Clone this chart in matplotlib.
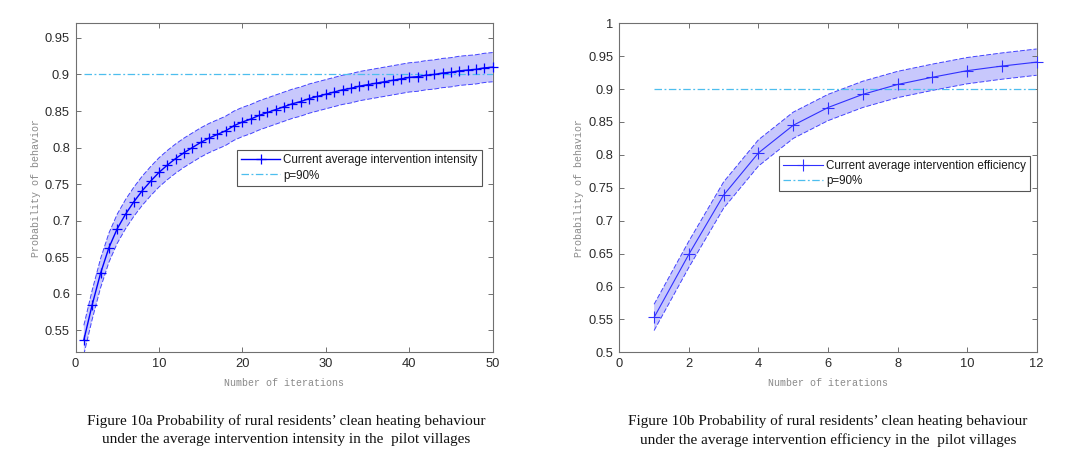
import matplotlib
matplotlib.use("Agg")
import matplotlib.pyplot as plt
import numpy as np
from matplotlib.ticker import FuncFormatter

# ---------------- data ----------------
iter_a = list(range(1, 51))
prob_a = [0.537, 0.585, 0.628, 0.663, 0.689, 0.709, 0.726, 0.741, 0.754, 0.766,
          0.776, 0.785, 0.793, 0.800, 0.807, 0.813, 0.818, 0.823, 0.830, 0.835,
          0.839, 0.844, 0.848, 0.852, 0.856, 0.860, 0.863, 0.867, 0.870, 0.873,
          0.876, 0.879, 0.881, 0.884, 0.886, 0.888, 0.890, 0.892, 0.894, 0.896,
          0.897, 0.899, 0.900, 0.902, 0.903, 0.905, 0.906, 0.907, 0.909, 0.910]
band_a = 0.02

iter_b = list(range(1, 13))
prob_b = [0.553, 0.649, 0.739, 0.803, 0.845, 0.872, 0.892, 0.907, 0.918, 0.928,
          0.935, 0.941]
band_b = 0.02

threshold = 0.90

legend_a = ["Current average intervention intensity", "p=90%"]
legend_b = ["Current average intervention efficiency", "p=90%"]

caption_a = ["Figure 10a Probability of rural residents\u2019 clean heating behaviour",
             "under the average intervention intensity in the  pilot villages"]
caption_b = ["Figure 10b Probability of rural residents\u2019 clean heating behaviour",
             "under the average intervention efficiency in the  pilot villages"]

xlabel = "Number of iterations"
ylabel = "Probability of behavior"

# ---------------- style ----------------
BLUE = "#0000ff"
FILL = "#c8c8fc"
THR = "#4dbeee"
AXC = "#707070"
TXT = "#2b2b2b"
LBL = "#8a8a8a"

fig = plt.figure(figsize=(10.8, 4.74), dpi=100)
fig.patch.set_facecolor("white")

ax_a = fig.add_axes([75.5 / 1080, 1 - 352.3 / 474, 417.2 / 1080, 329 / 474])
ax_b = fig.add_axes([619.3 / 1080, 1 - 352.3 / 474, 417.4 / 1080, 329 / 474])


def g_fmt(v, pos):
    return "%g" % round(v, 4)


def draw(ax, xs, ys, band, lw, ms, mew, lcolor, xlim, ylim, xticks, yticks,
         labels, leg_anchor):
    xs = np.asarray(xs, dtype=float)
    ys = np.asarray(ys, dtype=float)
    lo = ys - band
    hi = ys + band
    ax.fill_between(xs, lo, hi, facecolor=FILL, edgecolor="none", zorder=1)
    ax.plot(xs, lo, color=BLUE, lw=0.7, ls=(0, (5, 2)), alpha=0.7, zorder=2)
    ax.plot(xs, hi, color=BLUE, lw=0.7, ls=(0, (5, 2)), alpha=0.7, zorder=2)
    l1, = ax.plot(xs, ys, color=lcolor, lw=lw, marker="+", ms=ms, mew=mew,
                  zorder=4, clip_on=False)
    l2, = ax.plot([xs[0], xs[-1]], [threshold, threshold], color=THR, lw=0.9,
                  ls=(0, (6, 2, 1.5, 2)), zorder=3)
    ax.set_xlim(*xlim)
    ax.set_ylim(*ylim)
    ax.set_xticks(xticks)
    ax.set_yticks(yticks)
    ax.xaxis.set_major_formatter(FuncFormatter(g_fmt))
    ax.yaxis.set_major_formatter(FuncFormatter(g_fmt))
    ax.tick_params(direction="in", length=3.5, width=0.7, color=AXC,
                   top=True, right=True, labelsize=9.3, labelcolor=TXT, pad=4)
    for lab in ax.get_xticklabels() + ax.get_yticklabels():
        lab.set_family("Liberation Sans")
    for s in ax.spines.values():
        s.set_color(AXC)
        s.set_linewidth(0.8)
    ax.set_xlabel(xlabel, family="Liberation Mono", fontsize=7.2, color=LBL, labelpad=6)
    ax.set_ylabel(ylabel, family="Liberation Mono", fontsize=7.2, color=LBL, labelpad=3)
    leg = ax.legend([l1, l2], labels, loc="upper right", bbox_to_anchor=leg_anchor,
                    fancybox=False, framealpha=1, edgecolor="#555555",
                    prop={"family": "Liberation Sans", "size": 8.4},
                    handlelength=3.4, borderpad=0.35, labelspacing=0.3,
                    handletextpad=0.25, borderaxespad=0)
    leg.get_frame().set_linewidth(0.8)
    for t in leg.get_texts():
        t.set_color("#1a1a1a")


draw(ax_a, iter_a, prob_a, band_a, 1.0, 6.5, 0.9, BLUE, (0, 50), (0.52, 0.97),
     np.arange(0, 51, 10), np.arange(0.55, 0.951, 0.05), legend_a, (0.974, 0.615))
draw(ax_b, iter_b, prob_b, band_b, 0.8, 8, 0.8, "#3030ff", (0, 12), (0.5, 1.0),
     np.arange(0, 13, 2), np.arange(0.5, 1.001, 0.05), legend_b, (0.984, 0.598))

for cap, cx in ((caption_a, 286 / 1080), (caption_b, 828 / 1080)):
    fig.text(cx, 1 - 421 / 474, cap[0], ha="center", va="center",
             family="Liberation Serif", fontsize=11, color="#111111")
    fig.text(cx, 1 - 440 / 474, cap[1], ha="center", va="center",
             family="Liberation Serif", fontsize=11, color="#111111")

fig.savefig("out.png", dpi=100, facecolor="white")
